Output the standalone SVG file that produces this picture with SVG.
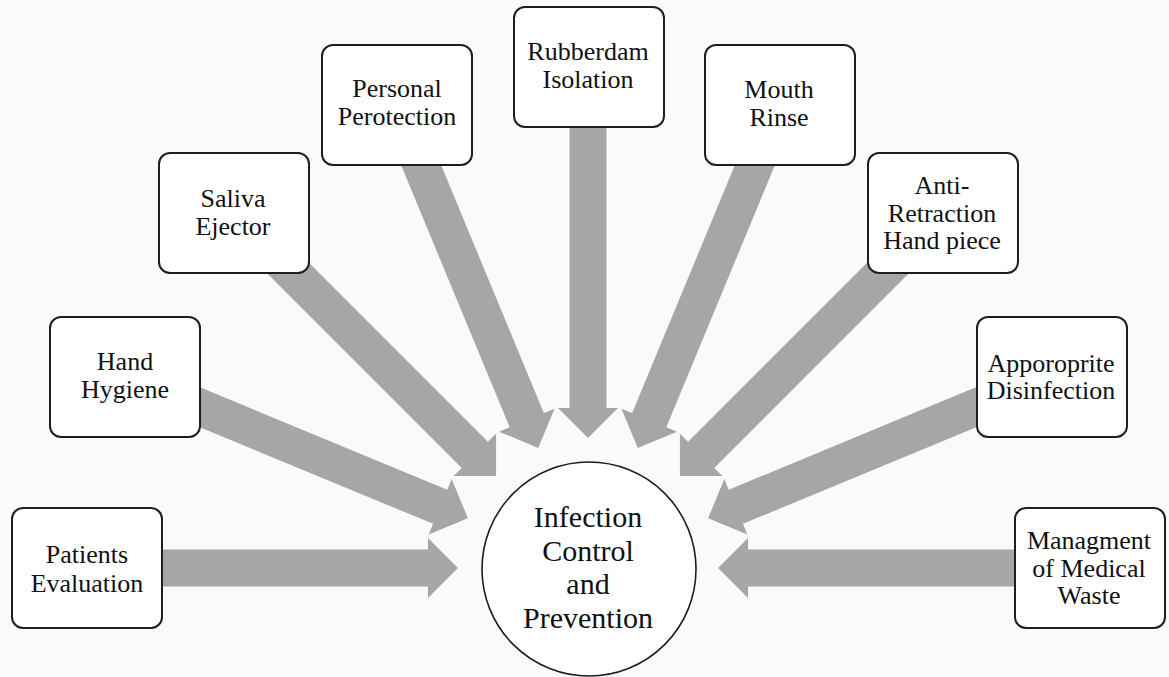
<svg xmlns="http://www.w3.org/2000/svg" xmlns:xlink="http://www.w3.org/1999/xlink" width="1169" height="677" viewBox="0 0 1169 677">
  <style>
    .box { fill: #ffffff; stroke: #1e1e1e; stroke-width: 2; }
    .hub { fill: #ffffff; stroke: #1e1e1e; stroke-width: 1.6; }
    .lbl { font-family: "Liberation Serif", "Times New Roman", serif; font-size: 26px; fill: #111111; text-anchor: middle; }
    .hubl { font-family: "Liberation Serif", "Times New Roman", serif; font-size: 30px; fill: #111111; text-anchor: middle; }
    .arr { fill: #a6a6a6; }
  </style>
  <defs>
    <polygon id="arrow" class="arr" points="-130,0 -160,-30 -160,-18.5 -500,-18.5 -500,18.5 -160,18.5 -160,30"/>
  </defs>
  <rect x="0" y="0" width="1169" height="677" fill="#fafafa"/>

  <g id="connectors">
    <use xlink:href="#arrow" href="#arrow" transform="translate(588,568) rotate(0)"/>
    <use xlink:href="#arrow" href="#arrow" transform="translate(588,568) rotate(22.5)"/>
    <use xlink:href="#arrow" href="#arrow" transform="translate(588,568) rotate(45)"/>
    <use xlink:href="#arrow" href="#arrow" transform="translate(588,568) rotate(67.5)"/>
    <use xlink:href="#arrow" href="#arrow" transform="translate(588,568) rotate(90)"/>
    <use xlink:href="#arrow" href="#arrow" transform="translate(588,568) rotate(112.5)"/>
    <use xlink:href="#arrow" href="#arrow" transform="translate(588,568) rotate(135)"/>
    <use xlink:href="#arrow" href="#arrow" transform="translate(588,568) rotate(157.5)"/>
    <use xlink:href="#arrow" href="#arrow" transform="translate(588,568) rotate(180)"/>
  </g>

  <g id="node-patients-evaluation">
    <rect class="box" x="12" y="508" width="150" height="120" rx="11"/>
    <text class="lbl" x="87" y="563">Patients</text>
    <text class="lbl" x="87" y="592">Evaluation</text>
  </g>
  <g id="node-hand-hygiene">
    <rect class="box" x="50" y="317" width="150" height="120" rx="11"/>
    <text class="lbl" x="125" y="370">Hand</text>
    <text class="lbl" x="125" y="398">Hygiene</text>
  </g>
  <g id="node-saliva-ejector">
    <rect class="box" x="159" y="153" width="150" height="120" rx="11"/>
    <text class="lbl" x="233" y="207">Saliva</text>
    <text class="lbl" x="233" y="235">Ejector</text>
  </g>
  <g id="node-personal-perotection">
    <rect class="box" x="322" y="45" width="150" height="120" rx="11"/>
    <text class="lbl" x="397" y="97">Personal</text>
    <text class="lbl" x="397" y="125">Perotection</text>
  </g>
  <g id="node-rubberdam-isolation">
    <rect class="box" x="514" y="7" width="150" height="120" rx="11"/>
    <text class="lbl" x="588" y="60">Rubberdam</text>
    <text class="lbl" x="588" y="88">Isolation</text>
  </g>
  <g id="node-mouth-rinse">
    <rect class="box" x="705" y="45" width="150" height="120" rx="11"/>
    <text class="lbl" x="779" y="98">Mouth</text>
    <text class="lbl" x="779" y="126">Rinse</text>
  </g>
  <g id="node-anti-retraction">
    <rect class="box" x="868" y="153" width="150" height="120" rx="11"/>
    <text class="lbl" x="942" y="194">Anti-</text>
    <text class="lbl" x="942" y="222">Retraction</text>
    <text class="lbl" x="942" y="249">Hand piece</text>
  </g>
  <g id="node-apporoprite-disinfection">
    <rect class="box" x="977" y="317" width="150" height="120" rx="11"/>
    <text class="lbl" x="1051" y="372">Apporoprite</text>
    <text class="lbl" x="1051" y="399">Disinfection</text>
  </g>
  <g id="node-managment-medical-waste">
    <rect class="box" x="1015" y="508" width="150" height="120" rx="11"/>
    <text class="lbl" x="1089" y="549">Managment</text>
    <text class="lbl" x="1089" y="577">of Medical</text>
    <text class="lbl" x="1089" y="604">Waste</text>
  </g>

  <g id="node-infection-control">
    <circle class="hub" cx="589" cy="569" r="107"/>
    <text class="hubl" x="588" y="527">Infection</text>
    <text class="hubl" x="588" y="561">Control</text>
    <text class="hubl" x="588" y="594">and</text>
    <text class="hubl" x="588" y="628">Prevention</text>
  </g>
</svg>
